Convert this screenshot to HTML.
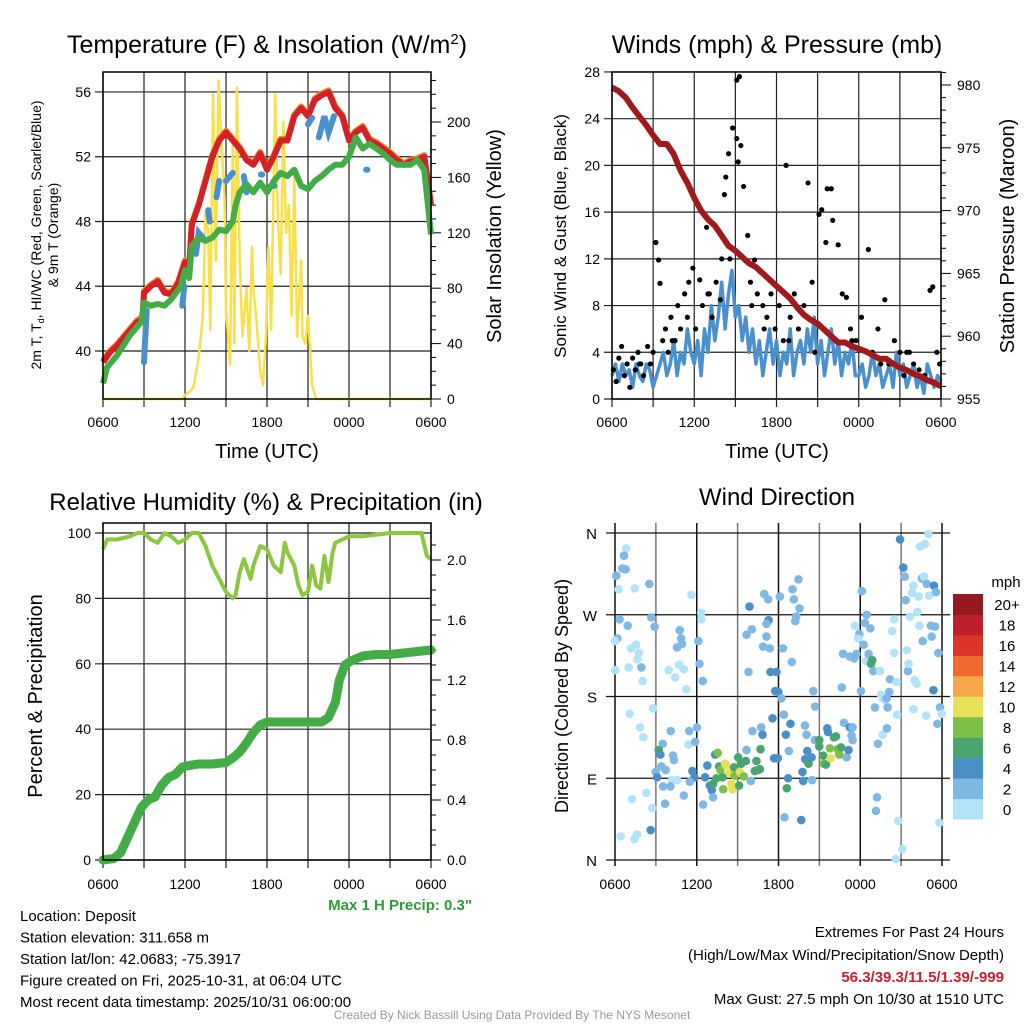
<!DOCTYPE html>
<html><head><meta charset="utf-8"><style>
html,body{margin:0;padding:0;background:#fff;}
svg{display:block;font-family:"Liberation Sans",sans-serif;}
</style></head><body>
<svg id="c" width="1024" height="1024" viewBox="0 0 1024 1024" xmlns="http://www.w3.org/2000/svg"></svg>
<script>
// ---------- DATA ----------
const tempT=[0,0.5,1,1.5,2,2.5,2.9,3.0,3.5,4,4.5,5,5.5,6,6.3,6.5,7,7.5,8,8.5,9,9.5,10,10.5,11,11.5,12,12.5,13,13.5,14,14.5,15,15.5,16,16.5,17,17.5,18,18.5,19,19.5,20,20.5,21,21.5,22,22.5,23,23.5,24];
const tempV=[39.3,39.9,40.3,40.8,41.3,41.8,42.0,43.6,44.0,44.3,43.6,43.5,44.2,45.5,45.0,47.8,49.0,50.5,52.0,53.0,53.5,53.0,52.5,51.8,51.5,52.2,51.2,52.0,53.0,53.0,54.5,55.0,54.5,55.5,55.8,56.0,55.0,54.5,53.0,53.5,53.8,53.0,52.8,52.5,52.2,51.8,51.5,51.7,51.8,52.0,49.0];
const dewT=[0,0.3,1,2,2.8,3,3.5,4,4.5,5,5.7,6,6.3,6.5,7,7.5,8,8.5,9,9.5,9.7,10,10.5,11,11.5,12,12.5,13,13.5,14,14.5,15,15.5,16,16.5,17,17.5,18,18.5,19,19.5,20,20.5,21,21.5,22,22.5,23,23.5,24];
const dewV=[38,39,39.7,41.0,41.8,43.0,42.8,42.9,42.8,43.2,44.0,45.0,44.5,46.5,47.0,46.8,47.0,47.5,47.4,48.0,49.0,49.8,50.3,49.8,50.4,49.8,50.5,51.0,50.8,51.2,50.2,50.0,50.5,50.8,51.2,51.5,51.5,52.0,53.2,52.5,52.8,52.5,52.2,51.8,51.5,51.5,51.5,51.8,51.2,47.2];
const wcSegT=[[3.0,3.2],[5.8,5.95],[6.8,7.0,7.3],[7.7,7.8],[8.3,8.5],[9.0,9.5],[10.3,10.5],[11.55,11.65],[12.45,12.55],[15.0,15.3],[15.8,16.2,16.5,16.9],[19.25,19.35]];
const wcSegV=[[39.3,42.5],[42.8,44.0],[46.0,47.3,47.0],[48.7,48.0],[49.5,50.5],[50.5,51.0],[50.8,49.8],[50.9,50.9],[50.2,50.2],[54.0,54.4],[53.2,54.5,53.5,54.5],[51.2,51.2]];
const solT=[0,5.8,6,6.3,6.6,7,7.3,7.5,7.7,7.85,8.05,8.25,8.45,8.6,8.75,8.9,9,9.3,9.5,9.6,9.8,10,10.2,10.5,10.7,10.9,11,11.2,11.5,11.7,11.9,12.1,12.3,12.6,12.8,13,13.2,13.4,13.6,13.8,14.0,14.2,14.5,14.6,14.8,15,15.3,15.6,24];
const solV=[0,0,3,5,8,30,60,135,120,50,220,100,230,200,170,145,65,25,190,40,225,100,45,80,35,110,80,60,20,10,40,110,50,220,130,90,200,120,140,60,160,45,100,45,40,60,10,0,0];
const windV=[2,3,1.5,3,2,2.5,1,3, 2,1.5,3,2.5,1,2,3,4, 2,3,5,2,4,3,6,4, 3,5,2,6,4,8,5,7, 10,6,9,11,7,8,5,7, 4,6,3,5,2,4,6,3, 5,2,4,3,6,2,4,5, 3,6,4,7,3,5,2,4, 6,3,5,2,4,3,5,2, 2,3,1,2,4,2,3,1, 2,3,1,4,2,3,1,2, 3,1,2,0.5,3,2,1,2,1.5];
const gustT=[0.1,0.3,0.5,0.7,0.9,1.1,1.3,1.5,1.7,1.9,2.1,2.3,2.6,2.8,3.0,3.2,3.4,3.5,3.7,3.9,4.1,4.3,4.6,4.8,5.0,5.3,5.5,5.9,6.1,6.4,6.6,6.9,7.1,7.3,7.6,7.9,8.0,8.2,8.3,8.5,8.8,9.1,9.1,9.2,9.3,9.4,9.6,9.9,10.1,10.4,10.6,10.8,11.0,11.3,11.6,11.9,12.2,12.5,12.7,13.0,13.3,13.6,14.0,14.3,14.6,15.1,15.3,15.6,15.7,16.0,16.1,16.5,16.8,17.1,17.4,17.8,18.2,18.7,19.0,19.4,19.9,20.2,20.6,21.0,21.3,21.7,22.0,22.4,22.8,23.2,23.4,23.7,23.9,2.0,4.4,5.6,7.0,8.6,10.2,11.1,12.9,14.8,17.5,19.6,21.5];
const gustV=[2.5,1.5,3.5,4.5,2,3,1,3.5,2.5,4,3,2,4.5,3,4,13.4,11.9,9.9,5,6,4,7,5,8,6,9,7,11.2,6,10.2,8,14.7,9,7,10,8.5,12,17.5,19,21,23.2,27.3,22.3,20.3,27.6,21.7,18.2,14,10,11.9,9,10.9,8,7,9,6,8,5,20,7,9,6,8,18.5,10,15.8,16.2,13.4,18,18,15.3,13.2,9,8.7,6,5,7,12.8,4,6,8.5,3,5,4,2,4,3,2.5,2,9.3,9.6,4,3,3,5,10,9,12,8,6,5,4,5,3,4];
const presT=[0,0.5,1,1.5,2,2.5,3,3.5,4,4.5,5,5.5,6,6.5,7,7.5,8,8.5,9,9.5,10,10.5,11,11.5,12,12.5,13,13.5,14,14.5,15,15.5,16,16.5,17,17.5,18,18.5,19,19.5,20,20.5,21,21.5,22,22.5,23,23.5,24];
const presV=[979.8,979.5,979.0,978.2,977.5,976.8,976.0,975.3,975.3,974.5,973.2,972.2,971.0,970.0,969.3,968.8,968.0,967.2,966.8,966.3,965.8,965.5,965.0,964.5,964.0,963.5,963.0,962.3,961.7,961.3,961.0,960.5,960.0,959.5,959.5,959.2,959.0,958.8,958.5,958.2,958.2,957.8,957.5,957.3,957.0,956.8,956.5,956.3,956.0];
const rhT=[0,0.3,1,2,2.5,3,3.5,4,4.5,5,5.5,6,6.5,7,7.5,8,8.5,9,9.5,9.7,10,10.3,10.8,11,11.5,12,12.5,13,13.3,13.5,14,14.3,14.6,15,15.3,15.6,15.9,16.2,16.5,16.8,17,17.5,18,19,20,21,22,23,23.3,23.7,24];
const rhV=[95,98,98,99,100,100,98,97,100,99,97,98,100,100,96,90,86,82,80,81,88,92,86,90,96,95,90,88,97,94,90,84,81,82,90,84,83,93,85,94,97,98,99,99,99.5,100,100,100,100,93,92];
const prT=[0,0.8,1.3,1.8,2.3,2.8,3.3,3.8,4.3,4.8,5.3,5.8,6.3,7,8,9,9.5,10,10.5,11,11.5,12,13,14,15,16,16.5,17,17.3,17.7,18.2,19,20,21,22,23,24];
const prV=[0,0.01,0.05,0.15,0.25,0.35,0.4,0.42,0.5,0.55,0.57,0.62,0.63,0.64,0.64,0.65,0.68,0.72,0.78,0.85,0.9,0.92,0.92,0.92,0.92,0.92,0.95,1.05,1.2,1.3,1.33,1.36,1.37,1.37,1.38,1.39,1.40];
const dirT=[0.83,0.66,0.54,0.78,0.1,0.27,1.44,2.52,0.34,0.93,0.17,0,1.18,1.54,1.74,1.64,1.93,1.0,0,2.03,2.79,1.08,1.84,2.08,5.61,6.32,6.34,2.67,2.91,4.75,4.85,4.92,4.56,4.7,5.05,3.94,4.41,5.24,6.12,6.2,6.44,6.02,5.44,4.09,3.5,5.39,5.88,3.21,3.33,4.26,4.33,3.4,3.72,2.99,3.09,4.19,4.56,3.53,4.07,5.05,5.68,5.83,5.49,6.61,6.78,7.35,6.96,7.1,6.47,7.2,3.67,2.3,1.25,2.74,2.62,0.42,1.42,1.62,7.54,7.64,7.74,8.08,8.18,8.35,8.55,8.62,7.94,7.89,7.2,7.45,8.74,8.79,9.04,9.16,9.11,9.26,9.45,9.6,9.65,9.97,10.38,10.46,10.63,10.68,10.26,10.09,10.73,10.83,11.68,11.95,11.56,12.39,12.88,12.54,12.71,12.61,12.76,13.94,14.06,14.11,13.96,13.76,13.81,14.43,14.47,14.2,14.69,14.55,14.67,14.99,14.99,15.28,15.33,15.48,15.58,15.63,15.77,15.82,16.07,16.21,16.34,16.46,16.58,16.8,17.0,17.14,17.24,17.44,17.36,17.44,9.65,10.04,9.8,9.87,10.95,11.24,11.27,11.12,11.12,10.87,11.36,11.41,11.85,12.1,12.32,11.76,11.98,12.22,12.98,13.03,13.13,13.47,13.54,13.3,13.23,12.44,13.67,16.65,16.73,17.24,17.61,17.56,17.73,17.93,17.85,18.05,18.12,18.25,18.34,18.47,18.42,18.61,18.74,18.79,18.88,18.96,19.08,19.3,19.23,19.15,19.45,19.52,19.64,19.69,19.81,19.94,20.01,20.13,19.96,20.18,20.67,20.7,20.79,20.6,21.09,20.92,21.16,21.26,21.33,21.41,21.5,21.55,21.65,21.8,21.9,21.9,21.99,22.14,22.19,22.29,22.34,22.39,22.53,22.58,22.68,22.75,22.83,22.88,23.0,23.05,23.19,23.24,23.37,23.41,23.49,23.56,23.66,23.73,23.81,23.85,23.98,20.35,20.5,20.5];
const dirD=[343,335,321,320,313,298,299,304,265,258,244,241,233,237,228,221,212,212,209,197,167,161,146,135,292,272,265,267,257,253,244,238,234,215,210,209,201,188,241,216,197,146,142,142,128,127,130,121,116,115,110,103,99,97,91,88,88,81,81,71,98,91,86,91,104,116,82,77,61,69,62,74,67,57,33,26,23,28,118,103,99,106,104,95,84,78,78,91,84,90,102,93,113,97,82,106,92,109,121,87,109,99,100,122,98,142,146,138,112,112,156,160,150,138,90,79,120,148,138,120,111,97,87,113,88,106,169,186,132,132,125,115,106,105,145,141,123,112,135,136,122,116,124,151,113,121,146,146,137,132,248,254,207,279,293,287,264,260,246,235,233,207,207,290,233,186,185,178,218,298,287,309,277,268,263,47,44,190,227,224,258,222,227,249,244,186,296,237,261,270,219,227,255,216,220,208,168,128,69,54,208,182,138,178,176,178,168,185,145,199,196,160,43,1,12,353,322,312,286,231,208,216,268,294,302,166,198,194,273,290,258,345,310,241,312,348,159,304,359,291,258,246,187,302,257,295,150,228,41,168,161,252,228,265];
const dirS=[0.5,2.5,2.5,2.5,2.5,0.5,0.5,2.5,2.5,2.5,2.5,0.5,0.5,0.5,0.5,0.5,2.5,0.5,0.5,0.5,0.5,0.5,0.5,0.5,0.5,0.5,0.5,2.5,2.5,2.5,2.5,2.5,2.5,0.5,0.5,0.5,0.5,0.5,2.5,2.5,2.5,2.5,2.5,2.5,2.5,0.5,2.5,6.5,4.5,2.5,2.5,2.5,2.5,2.5,4.5,0.5,0.5,2.5,2.5,2.5,4.5,4.5,2.5,4.5,4.5,4.5,4.5,4.5,2.5,2.5,2.5,0.5,0.5,0.5,4.5,0.5,0.5,0.5,8.5,6.5,8.5,10.5,10.5,10.5,10.5,10.5,8.5,6.5,6.5,6.5,6.5,8.5,6.5,10.5,6.5,6.5,8.5,6.5,2.5,2.5,6.5,6.5,6.5,6.5,6.5,2.5,2.5,4.5,4.5,4.5,4.5,2.5,4.5,4.5,4.5,6.5,2.5,2.5,2.5,4.5,4.5,4.5,4.5,4.5,2.5,6.5,2.5,2.5,2.5,6.5,6.5,6.5,8.5,6.5,4.5,4.5,8.5,10.5,6.5,6.5,8.5,8.5,6.5,2.5,2.5,4.5,4.5,2.5,2.5,2.5,2.5,2.5,2.5,4.5,2.5,2.5,4.5,2.5,2.5,2.5,2.5,4.5,4.5,2.5,2.5,4.5,4.5,2.5,2.5,2.5,2.5,2.5,2.5,2.5,2.5,2.5,4.5,2.5,2.5,2.5,0.5,2.5,2.5,2.5,0.5,2.5,2.5,2.5,2.5,2.5,0.5,2.5,2.5,6.5,6.5,2.5,2.5,2.5,2.5,2.5,0.5,0.5,0.5,0.5,0.5,2.5,2.5,2.5,2.5,2.5,0.5,0.5,0.5,0.5,0.5,4.5,4.5,2.5,2.5,0.5,2.5,0.5,0.5,0.5,0.5,0.5,0.5,0.5,0.5,0.5,0.5,0.5,2.5,2.5,0.5,0.5,0.5,2.5,0.5,0.5,2.5,2.5,4.5,4.5,2.5,2.5,2.5,2.5,0.5,2.5,0.5,0.5,0.5,0.5,0.5,0.5];
const speedColors=["#b3e3f8","#7fb8e3","#4a8fc6","#48a56f","#7dbf48","#e6e05a","#f5a74a","#ef6a2f","#dc3528","#bf1e2b","#961a1d"];
const speedLabels=["0","2","4","6","8","10","12","14","16","18","20+"];
const timeLabels=["0600","1200","1800","0000","0600"];

// ---------- HELPERS ----------
const NS="http://www.w3.org/2000/svg";
const svg=document.getElementById('c');
function mk(tag,attrs,parent){const e=document.createElementNS(NS,tag);for(const k in attrs)e.setAttribute(k,attrs[k]);(parent||svg).appendChild(e);return e;}
function txt(x,y,s,size,anchor,extra){const e=mk('text',Object.assign({x:x,y:y,'font-size':size,'text-anchor':anchor||'middle',fill:'#000'},extra||{}));e.textContent=s;return e;}
function poly(xs,ys,fx,fy){let d='';const n=Math.min(xs.length,ys.length);for(let i=0;i<n;i++){d+=(i?'L':'M')+fx(xs[i]).toFixed(1)+' '+fy(ys[i]).toFixed(1);}return d;}

// ---------- PANEL 1 ----------
(function(){
const X0=103,X1=431,Y0=72,Y1=399;
const sx=t=>X0+t/24*(X1-X0);
const sy=v=>351-(v-40)*16.19;
const si=v=>399-v*1.385;
const g=mk('g',{});


for(let h=0;h<=24;h+=3){const l=mk('line',{x1:sx(h),x2:sx(h),y1:Y0,y2:Y1+8,stroke:'#222','stroke-width':1.2},g);}
[40,44,48,52,56].forEach(v=>{const l=mk('line',{x1:X0-8,x2:X1,y1:sy(v),y2:sy(v),stroke:'#222','stroke-width':1.2},g);
 const t=txt(X0-12,sy(v)+5,String(v),14,'end',{});});
for(let v=0;v<=235;v+=10){const big=v%40===0;mk('line',{x1:X1,x2:X1+(big?10:5),y1:si(v),y2:si(v),stroke:'#000','stroke-width':1},g);}
[0,40,80,120,160,200].forEach(v=>{const t=txt(X1+16,si(v)+5,String(v),14,'start',{});});
const solar=mk('path',{d:poly(solT,solV,sx,si),fill:'none',stroke:'#f9e04b','stroke-width':2.5,'stroke-linejoin':'round'},g);

const t9=mk('path',{d:poly(tempT,tempV.map(v=>v+0.1),sx,sy),fill:'none',stroke:'#f08a30','stroke-width':6,'stroke-linejoin':'round'},g);

const tr=mk('path',{d:poly(tempT,tempV,sx,sy),fill:'none',stroke:'#d42027','stroke-width':6,'stroke-linejoin':'round'},g);

wcSegT.forEach((seg,i)=>{const p=mk('path',{d:poly(seg,wcSegV[i],sx,sy),fill:'none',stroke:'#4a90cc','stroke-width':6,'stroke-linecap':'round'},g);});
const dw=mk('path',{d:poly(dewT,dewV,sx,sy),fill:'none',stroke:'#43ac47','stroke-width':6,'stroke-linejoin':'round'},g);

const fr=mk('rect',{x:X0,y:Y0,width:X1-X0,height:Y1-Y0,fill:'none',stroke:'#000','stroke-width':1.5},g);
timeLabels.forEach((s,i)=>{const t=txt(sx(i*6),427,s,14,'middle',{});});
let e=txt(267,53,'Temperature (F) & Insolation (W/m',25,'middle',{});
const ts=mk('tspan',{dy:-9,'font-size':15},e);ts.textContent='2';const ts2=mk('tspan',{dy:9},e);ts2.textContent=')';
e=txt(267,458,'Time (UTC)',20,'middle',{});
e=txt(0,0,'',14,'middle',{transform:'translate(41,235) rotate(-90)'});
let a=mk('tspan',{x:0,dy:0},e);a.textContent='2m T, T';let b=mk('tspan',{'font-size':9,dy:3},e);b.textContent='d';let c2=mk('tspan',{dy:-3},e);c2.textContent=', HI/WC (Red, Green, Scarlet/Blue)';
let d=mk('tspan',{x:0,dy:17},e);d.textContent='& 9m T (Orange)';
e=txt(0,0,'Solar Insolation (Yellow)',20,'middle',{transform:'translate(501,236) rotate(-90)'});
})();

// ---------- PANEL 2 ----------
(function(){
const X0=612,X1=941,Y0=72,Y1=399;
const sx=t=>X0+t/24*(X1-X0);
const sy=v=>399-v*11.68;
const sp=p=>399-(p-955)*12.56;
const g=mk('g',{});
for(let h=0;h<=24;h+=3){mk('line',{x1:sx(h),x2:sx(h),y1:Y0,y2:Y1+8,stroke:'#222','stroke-width':1.2},g);}
for(let v=0;v<=28;v+=4){mk('line',{x1:X0-8,x2:X1,y1:sy(v),y2:sy(v),stroke:'#222','stroke-width':1.2},g);
 const t=txt(X0-12,sy(v)+5,String(v),14,'end',{});}
for(let p=955;p<=981;p++){const big=p%5===0;mk('line',{x1:X1,x2:X1+(big?10:5),y1:sp(p),y2:sp(p),stroke:'#000'},g);}
[955,960,965,970,975,980].forEach(p=>{const t=txt(X1+16,sp(p)+5,String(p),14,'start',{});});
const wt=windV.map((v,i)=>i*0.25);
const wl=mk('path',{d:poly(wt,windV,sx,sy),fill:'none',stroke:'#4a90cc','stroke-width':3.5,'stroke-linejoin':'round'},g);

const ng=Math.min(gustT.length,gustV.length);
for(let i=0;i<ng;i++){const c=mk('circle',{cx:sx(gustT[i]),cy:sy(gustV[i]),r:2.6,fill:'#000'},g);}
const pl=mk('path',{d:poly(presT,presV,sx,sp),fill:'none',stroke:'#a0191c','stroke-width':6,'stroke-linejoin':'round'},g);

const fr=mk('rect',{x:X0,y:Y0,width:X1-X0,height:Y1-Y0,fill:'none',stroke:'#000','stroke-width':1.5},g);
timeLabels.forEach((s,i)=>{const t=txt(sx(i*6),427,s,14,'middle',{});});
let e=txt(777,53,'Winds (mph) & Pressure (mb)',25,'middle',{});
e=txt(777,458,'Time (UTC)',20,'middle',{});
e=txt(0,0,'Sonic Wind & Gust (Blue, Black)',17,'middle',{transform:'translate(566,236) rotate(-90)'});
e=txt(0,0,'Station Pressure (Maroon)',20,'middle',{transform:'translate(1014,236) rotate(-90)'});
})();

// ---------- PANEL 3 ----------
(function(){
const X0=103,X1=431,Y0=523,Y1=860;
const sx=t=>X0+t/24*(X1-X0);
const sy=v=>860-v*3.27;
const sp=p=>860-p*150;
const g=mk('g',{});
for(let h=0;h<=24;h+=3){mk('line',{x1:sx(h),x2:sx(h),y1:Y0,y2:Y1+8,stroke:'#222','stroke-width':1.2},g);}
for(let v=0;v<=100;v+=20){mk('line',{x1:X0-8,x2:X1,y1:sy(v),y2:sy(v),stroke:'#222','stroke-width':1.2},g);
 const t=txt(X0-12,sy(v)+5,String(v),14,'end',{});}
for(let p=0;p<=2.2;p+=0.1){const big=Math.round(p*10)%4===0;mk('line',{x1:X1,x2:X1+(big?10:5),y1:sp(p),y2:sp(p),stroke:'#000'},g);}
[0,0.4,0.8,1.2,1.6,2.0].forEach(p=>{const t=txt(X1+16,sp(p)+5,p.toFixed(1),14,'start',{});});
const rl=mk('path',{d:poly(rhT,rhV,sx,sy),fill:'none',stroke:'#8dc63f','stroke-width':4,'stroke-linejoin':'round'},g);

const pl=mk('path',{d:poly(prT,prV,sx,sp),fill:'none',stroke:'#43ac47','stroke-width':9,'stroke-linejoin':'round','stroke-linecap':'round'},g);

const fr=mk('rect',{x:X0,y:Y0,width:X1-X0,height:Y1-Y0,fill:'none',stroke:'#000','stroke-width':1.5},g);
timeLabels.forEach((s,i)=>{const t=txt(sx(i*6),889,s,14,'middle',{});});
let e=txt(266,510,'Relative Humidity (%) & Precipitation (in)',24,'middle',{});
e=txt(0,0,'Percent & Precipitation',20,'middle',{transform:'translate(42,696) rotate(-90)'});
e=txt(472,910,'Max 1 H Precip: 0.3"',15,'end',{fill:'#2e9a38','font-weight':'bold'});
})();

// ---------- PANEL 4 ----------
(function(){
const X0=615,X1=942;
const sx=t=>X0+t/24*(X1-X0);
const sy=d=>860-d*0.9083;
const g=mk('g',{});
for(let h=0;h<=24;h+=3){mk('line',{x1:sx(h),x2:sx(h),y1:523,y2:866,stroke:h%6===0?'#111':'#777','stroke-width':1.5},g);}
const dl=['N','E','S','W','N'];
[0,90,180,270,360].forEach((d,i)=>{mk('line',{x1:606,x2:950,y1:sy(d),y2:sy(d),stroke:'#111','stroke-width':1.2},g);
 const t=txt(597,sy(d)+6,dl[i],15,'end',{});});
const nd=Math.min(dirT.length,dirD.length,dirS.length);
for(let i=0;i<nd;i++){const idx=Math.min(10,Math.floor(dirS[i]/2));const c=mk('circle',{cx:sx(dirT[i]),cy:sy(dirD[i]),r:4.3,fill:speedColors[idx]},g);}
timeLabels.forEach((s,i)=>{const t=txt(sx(i*6),889,s,14,'middle',{});});
let e=txt(777,505,'Wind Direction',24,'middle',{});
e=txt(0,0,'Direction (Colored By Speed)',18,'middle',{transform:'translate(568,696) rotate(-90)'});
const lg=mk('g',{},g);
const bh=225/11;
for(let k=0;k<11;k++){const y=594+(10-k)*bh;const r=mk('rect',{x:953,y:y,width:30,height:bh+0.5,fill:speedColors[k]},lg);
 const t=txt(1007,y+bh/2+6,speedLabels[k],15,'middle',{});}
e=txt(1006,587,'mph',15,'middle',{});
})();

// ---------- FOOTER ----------
const leftLines=['Location: Deposit','Station elevation: 311.658 m','Station lat/lon: 42.0683; -75.3917','Figure created on Fri, 2025-10-31, at 06:04 UTC','Most recent data timestamp: 2025/10/31 06:00:00'];
leftLines.forEach((s,i)=>{const t=txt(20,921+i*21.5,s,15,'start',{});});
let f=txt(1004,937,'Extremes For Past 24 Hours',15,'end',{});
f=txt(1004,960,'(High/Low/Max Wind/Precipitation/Snow Depth)',15,'end',{});
f=txt(1004,982,'56.3/39.3/11.5/1.39/-999',15,'end',{fill:'#c8202a','font-weight':'bold'});
f=txt(1004,1004,'Max Gust: 27.5 mph On 10/30 at 1510 UTC',15,'end',{});
f=txt(512,1019,'Created By Nick Bassill Using Data Provided By The NYS Mesonet',12,'middle',{fill:'#999'});
</script>
</body></html>
